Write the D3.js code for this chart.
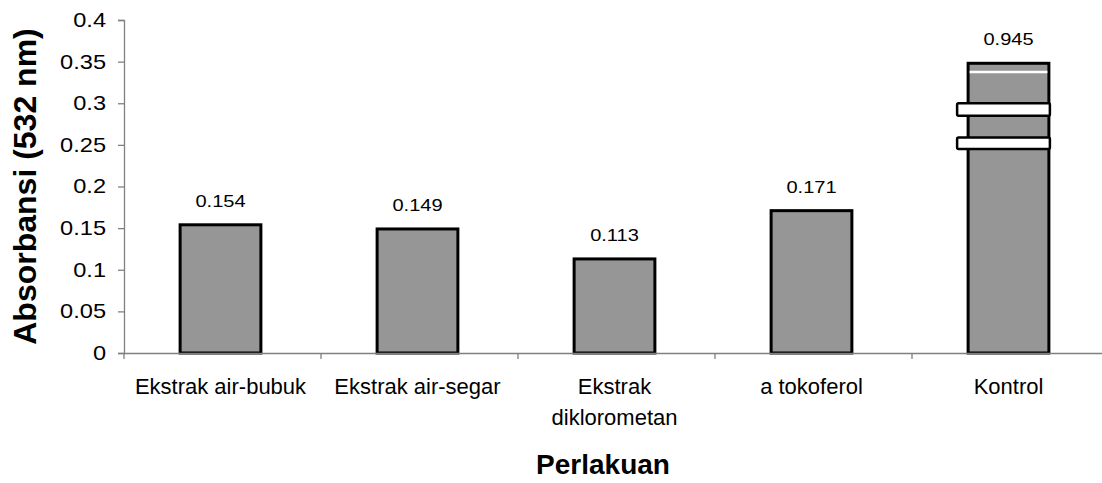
<!DOCTYPE html>
<meta charset="utf-8">
<script src="https://d3js.org/d3.v7.min.js"></script>
<style>
  body { margin: 0; background: #fff; }
  text { font-family: Arial, "Liberation Sans", sans-serif; fill: #000; }
</style>
<div id="chart"></div>
<script>
// data
var categories = [["Ekstrak air-bubuk"], ["Ekstrak air-segar"], ["Ekstrak", "diklorometan"], ["a tokoferol"], ["Kontrol"]];
var values = [0.154, 0.149, 0.113, 0.171, 0.945];
var labels = ["0.154", "0.149", "0.113", "0.171", "0.945"];
var yTicks = [0, 0.05, 0.1, 0.15, 0.2, 0.25, 0.3, 0.35, 0.4];
var yTickLabels = ["0", "0.05", "0.1", "0.15", "0.2", "0.25", "0.3", "0.35", "0.4"];
var capValue = 0.348;          // Kontrol bar drawn cut off at this value
var capLine = 0.3375;          // thin white cut line
var breaks = [[0.285, 0.300], [0.245, 0.259]];  // axis break marks on Kontrol bar

var W = 1102, H = 483;
var margin = {top: 20, right: -7, bottom: 130, left: 124};
var width = W - margin.left - margin.right,
    height = H - margin.top - margin.bottom;
var sx = 1.18;   // text in the original is a bit wide

var svg = d3.select("#chart").append("svg")
    .attr("width", W).attr("height", H);
var g = svg.append("g")
    .attr("transform", "translate(" + margin.left + "," + margin.top + ")");

var idx = d3.range(categories.length);
var x = d3.scaleBand().domain(idx).range([0, width]).padding(0);
var y = d3.scaleLinear().domain([0, 0.4]).range([height, 0]);
var bw = x.bandwidth() * 0.41;
var barX = function(i) { return x(i) + (x.bandwidth() - bw) / 2 - 2; };

// y axis
var yAxis = g.append("g")
    .call(d3.axisLeft(y).tickValues(yTicks).tickSize(6).tickPadding(12)
      .tickFormat(function(d, i) { return yTickLabels[i]; }));
yAxis.select(".domain").attr("stroke", "#808080").attr("stroke-width", 1.3);
yAxis.selectAll(".tick line").attr("stroke", "#808080").attr("stroke-width", 1.3);
yAxis.selectAll(".tick text")
    .attr("font-size", 20)
    .attr("font-family", "Arial, 'Liberation Sans', sans-serif")
    .attr("x", -18 / sx)
    .attr("transform", "scale(" + sx + ",1)");

// bars
var barH = function(v) { return Math.min(v, capValue); };
g.selectAll("rect.bar").data(values).enter().append("rect")
    .attr("class", "bar")
    .attr("x", function(d, i) { return barX(i); })
    .attr("y", function(d) { return y(barH(d)); })
    .attr("width", bw)
    .attr("height", function(d) { return height - y(barH(d)); })
    .attr("fill", "#969696")
    .attr("stroke", "#000")
    .attr("stroke-width", 3);

// cut + break marks on the Kontrol bar
var k = values.length - 1;
var kx = barX(k);
g.append("line")
    .attr("x1", kx + 1.5).attr("x2", kx + bw - 1.5)
    .attr("y1", y(capLine)).attr("y2", y(capLine))
    .attr("stroke", "#fff").attr("stroke-width", 2.5);
g.selectAll("rect.brk").data(breaks).enter().append("rect")
    .attr("class", "brk")
    .attr("x", kx - 11)
    .attr("y", function(d) { return y(d[1]); })
    .attr("width", bw + 12)
    .attr("height", function(d) { return y(d[0]) - y(d[1]); })
    .attr("rx", 1.5)
    .attr("fill", "#fff")
    .attr("stroke", "#000")
    .attr("stroke-width", 2.5);

// x axis
var xAxis = g.append("g")
    .attr("transform", "translate(0," + height + ")")
    .call(d3.axisBottom(x).tickSize(0).tickFormat(""));
xAxis.select(".domain").attr("stroke", "#808080").attr("stroke-width", 1.3);
xAxis.selectAll(".tick").remove();
xAxis.selectAll("line.sep").data(idx).enter().append("line")
    .attr("class", "sep")
    .attr("x1", function(i) { return x(i); }).attr("x2", function(i) { return x(i); })
    .attr("y1", 0).attr("y2", 6)
    .attr("stroke", "#808080").attr("stroke-width", 1.3);

// category labels
var cat = g.selectAll("text.cat").data(categories).enter().append("text")
    .attr("class", "cat")
    .attr("text-anchor", "middle")
    .attr("font-size", 22)
    .attr("transform", function(d, i) { return "translate(" + (x(i) + x.bandwidth() / 2 - 2) + "," + (height + 41) + ")"; });
cat.selectAll("tspan").data(function(d) { return d; }).enter().append("tspan")
    .attr("x", 0)
    .attr("dy", function(d, j) { return j === 0 ? 0 : 31; })
    .text(function(d) { return d; });

// value labels
g.selectAll("text.val").data(values).enter().append("text")
    .attr("class", "val")
    .attr("text-anchor", "middle")
    .attr("font-size", 17)
    .attr("transform", function(d, i) {
      return "translate(" + (barX(i) + bw / 2) + "," + (y(barH(d)) - 18) + ") scale(" + sx + ",1)";
    })
    .text(function(d, i) { return labels[i]; });

// axis titles
svg.append("text")
    .attr("text-anchor", "middle")
    .attr("font-size", 32)
    .attr("font-weight", "bold")
    .attr("transform", "translate(36," + (margin.top + height / 2) + ") rotate(-90)")
    .text("Absorbansi (532 nm)");

svg.append("text")
    .attr("text-anchor", "middle")
    .attr("font-size", 28)
    .attr("font-weight", "bold")
    .attr("x", 603)
    .attr("y", 474)
    .text("Perlakuan");
</script>
